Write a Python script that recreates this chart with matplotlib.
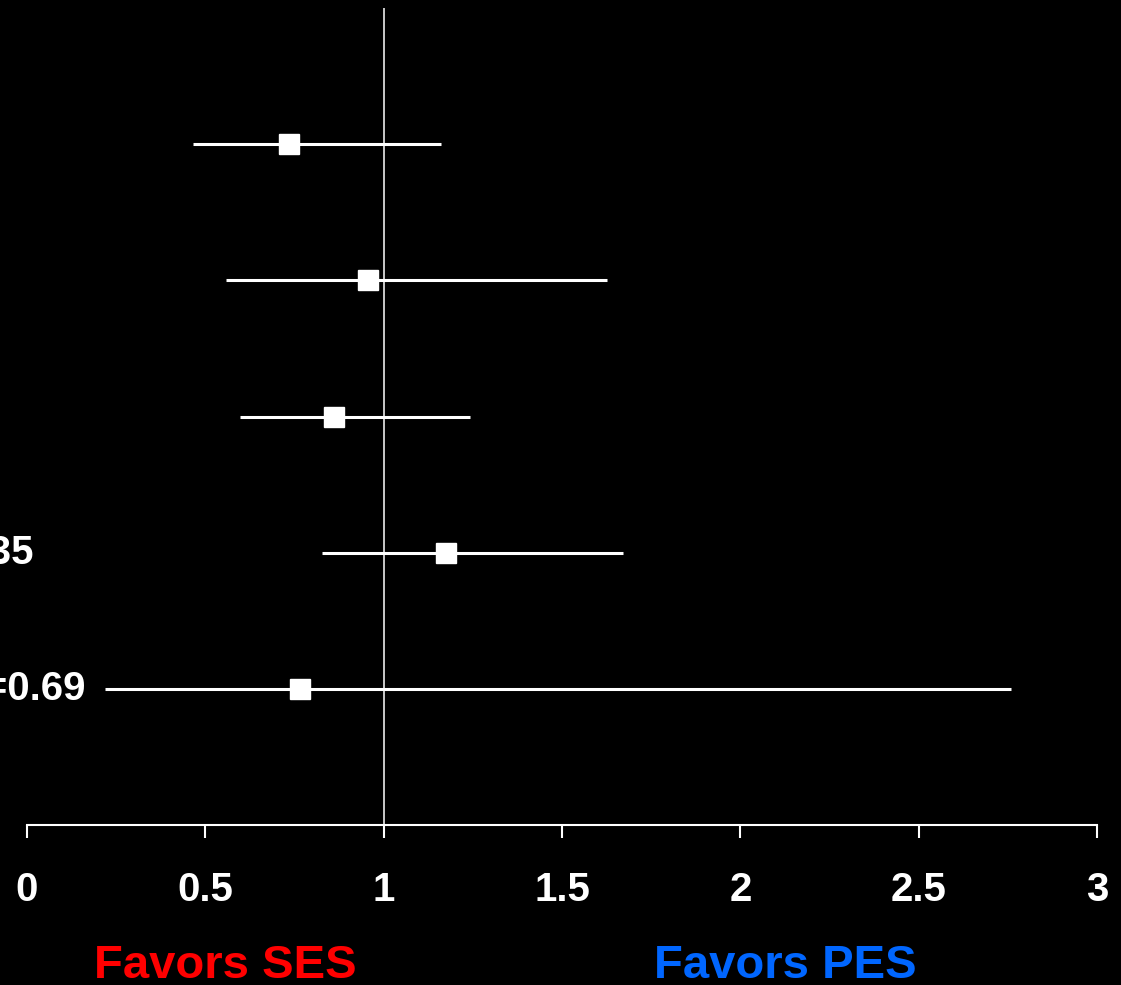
import matplotlib.pyplot as plt

# forest plot values (ratio, lower CI, upper CI), top row first
rows = [1, 2, 3, 4, 5]
estimate = [0.735, 0.955, 0.86, 1.175, 0.765]
ci_low = [0.465, 0.557, 0.597, 0.826, 0.218]
ci_high = [1.16, 1.627, 1.241, 1.672, 2.76]
p_labels = {4: "P=0.35", 5: "P=0.69"}
x_ticks = [0, 0.5, 1, 1.5, 2, 2.5, 3]
tick_text = ["0", "0.5", "1", "1.5", "2", "2.5", "3"]

plt.rcParams['font.family'] = ['Liberation Sans', 'DejaVu Sans']
plt.rcParams['font.weight'] = 'bold'

fig = plt.figure(figsize=(11.21, 9.85), dpi=100, facecolor="black")
ax = fig.add_axes([27 / 1121, 1 - 825 / 985, 1070 / 1121, 817 / 985])
ax.set_facecolor("black")

# confidence intervals and point estimates
ax.hlines(rows, ci_low, ci_high, color="white", linewidth=2.2, zorder=2)
ax.plot(estimate, rows, "s", color="white", markersize=15, zorder=3)

# line of no effect
ax.axvline(1, color="white", linewidth=1.1, zorder=1)

ax.set_xlim(0, 3)
ax.set_ylim(6, 0)

for s in ["top", "right", "left"]:
    ax.spines[s].set_visible(False)
ax.spines["bottom"].set_color("white")
ax.spines["bottom"].set_linewidth(1.5)
ax.set_yticks([])
ax.set_xticks(x_ticks)
ax.set_xticklabels(tick_text, fontsize=29, fontweight="bold", color="white")
ax.tick_params(axis="x", colors="white", length=9, width=1.5, pad=24)

# p-values sit to the left of the plot area
for r, txt in p_labels.items():
    x_end = 34 if r == 4 else 86
    fig.text(x_end / 1121, ax.transData.transform((0, r))[1] / 985, txt,
             ha="right", va="center", fontsize=29, fontweight="bold", color="white")

fig.text(225 / 1121, 1 - 978 / 985, "Favors SES", ha="center", va="baseline",
         fontsize=34, fontweight="bold", color="#ff0000")
fig.text(785 / 1121, 1 - 978 / 985, "Favors PES", ha="center", va="baseline",
         fontsize=34, fontweight="bold", color="#0066ff")

fig.savefig("out.png", dpi=100, facecolor="black")
